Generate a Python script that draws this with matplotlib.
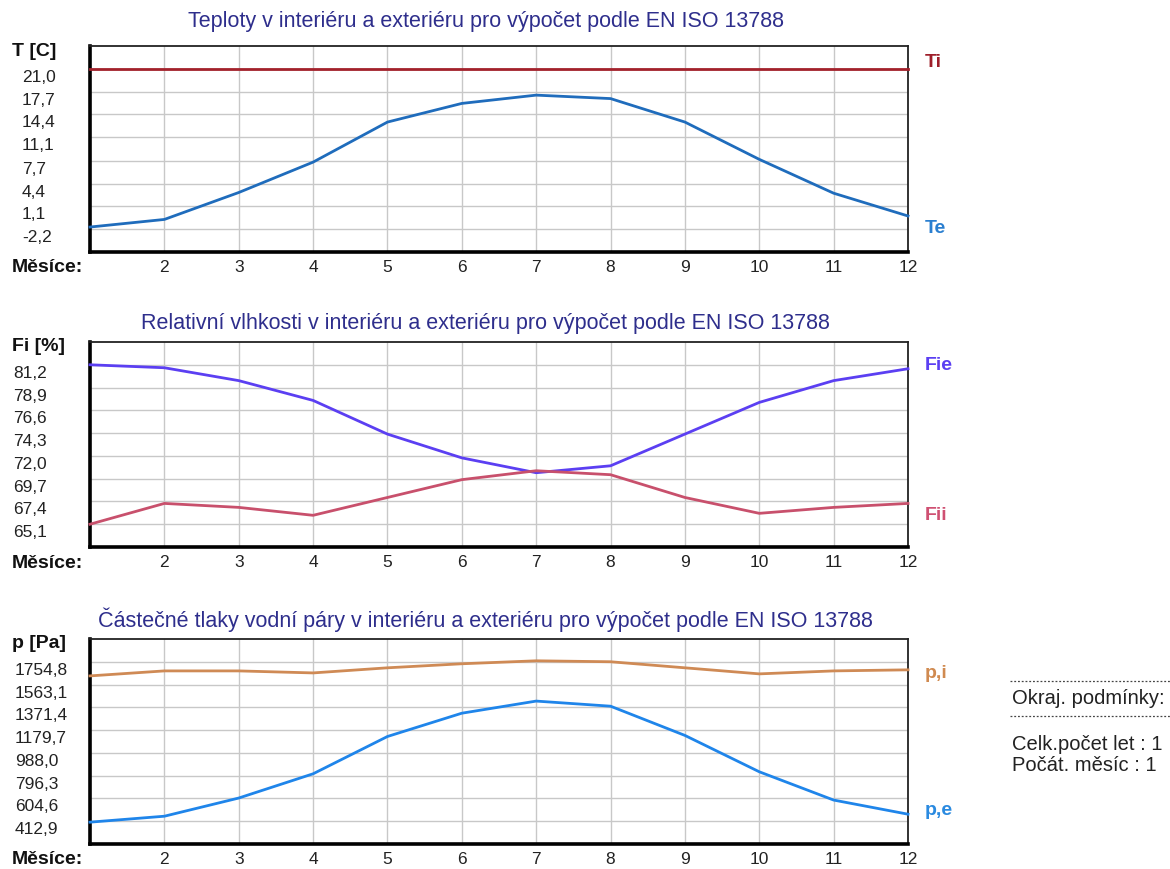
import numpy as np
import matplotlib.pyplot as plt
from matplotlib.lines import Line2D

plt.rcParams["font.family"] = ["Liberation Sans", "DejaVu Sans"]

W, H = 1170, 870

# -------- DATA
mesice = list(range(1, 13))
mesic_popisky = [""] + [str(m) for m in range(2, 13)]

# teploty [C]
ti = [21.0] * 12
te = [-1.9, -0.8, 3.1, 7.5, 13.3, 16.0, 17.2, 16.7, 13.3, 7.9, 3.0, -0.3]

# relativni vlhkosti [%]
fie = [81.2, 80.9, 79.6, 77.6, 74.2, 71.8, 70.3, 71.0, 74.2, 77.4, 79.6, 80.8]
fii = [65.1, 67.2, 66.8, 66.0, 67.8, 69.6, 70.5, 70.1, 67.8, 66.2, 66.8, 67.2]

# castecne tlaky vodni pary [Pa]
p_i = [1636, 1678, 1678, 1661, 1704, 1738, 1763, 1755, 1704, 1653, 1678, 1687]
p_e = [405, 455, 608, 812, 1126, 1322, 1424, 1381, 1135, 829, 591, 472]

t_ticks = [-2.2, 1.1, 4.4, 7.7, 11.1, 14.4, 17.7, 21.0]
fi_ticks = [65.1, 67.4, 69.7, 72.0, 74.3, 76.6, 78.9, 81.2]
p_ticks = [412.9, 604.6, 796.3, 988.0, 1179.7, 1371.4, 1563.1, 1754.8]

# -------- LAYOUT (pixels)
panels = [
    dict(title="Teploty v interiéru a exteriéru pro výpočet podle EN ISO 13788",
         unit="T [C]", ticks=t_ticks, top=47, bottom=253, lab_x=22, title_pad=14.5,
         series=[("Ti", ti, "#a3212b", "#9e1f2a", -7),
                 ("Te", te, "#1f6cbc", "#2a7fd0", 12)]),
    dict(title="Relativní vlhkosti v interiéru a exteriéru pro výpočet podle EN ISO 13788",
         unit="Fi [%]", ticks=fi_ticks, top=343, bottom=548, lab_x=13, title_pad=10,
         series=[("Fie", fie, "#5b3ff2", "#5b3ff2", -4),
                 ("Fii", fii, "#c8506c", "#cf5072", 11)]),
    dict(title="Částečné tlaky vodní páry v interiéru a exteriéru pro výpočet podle EN ISO 13788",
         unit="p [Pa]", ticks=p_ticks, top=640, bottom=845, lab_x=15, title_pad=9.5,
         series=[("p,i", p_i, "#cf8a55", "#d08a50", 3),
                 ("p,e", p_e, "#1f85ea", "#2a8ae0", -5)]),
]

left_px, right_px = 90, 908
title_color = "#2e2e8c"
grid_color = "#c8c8c8"
px2pt = 0.72

fig = plt.figure(figsize=(W / 100, H / 100), dpi=100)

for p in panels:
    ax = fig.add_axes([left_px / W, 1 - p["bottom"] / H,
                       (right_px - left_px) / W, (p["bottom"] - p["top"]) / H])
    ticks = p["ticks"]
    step = (ticks[-1] - ticks[0]) / (len(ticks) - 1)
    ax.set_ylim(ticks[0] - step, ticks[-1] + step)
    ax.set_xlim(1, 12)

    for name, vals, col, lab_col, dy in p["series"]:
        ax.plot(mesice, vals, color=col, lw=2.0, zorder=3, clip_on=False)
        ax.annotate(name, xy=(mesice[-1], vals[-1]),
                    xytext=(17 * px2pt, -dy * px2pt), textcoords="offset points",
                    ha="left", va="center", fontsize=14, fontweight="bold",
                    color=lab_col, annotation_clip=False)

    ax.set_yticks(ticks)
    ax.set_yticklabels([f"{v:.1f}".replace(".", ",") for v in ticks])
    ax.set_xticks(mesice)
    ax.set_xticklabels(mesic_popisky)
    ax.tick_params(axis="y", length=0, pad=(left_px - p["lab_x"]) * px2pt,
                   labelsize=12.5, labelcolor="#222222")
    ax.tick_params(axis="x", length=0, pad=5, labelsize=12.5, labelcolor="#222222")
    for lbl in ax.get_yticklabels():
        lbl.set_ha("left")
        lbl.set_va("top")

    ax.grid(True, color=grid_color, lw=1.0, zorder=0)
    for s in ["left", "bottom"]:
        ax.spines[s].set_linewidth(2.6)
        ax.spines[s].set_color("black")
    for s in ["top", "right"]:
        ax.spines[s].set_linewidth(1.3)
        ax.spines[s].set_color("#222222")

    ax.set_title(p["title"], x=0.484, pad=p["title_pad"], fontsize=15.5,
                 color=title_color)

    fig.text(12 / W, 1 - (p["top"] + 4) / H, p["unit"], fontsize=14,
             fontweight="bold", va="center", ha="left", color="#111111")
    fig.text(12 / W, 1 - (p["bottom"] + 15) / H, "Měsíce:", fontsize=14,
             fontweight="bold", va="center", ha="left", color="#111111")

# -------- Okrajove podminky (vpravo dole)
for y in [682, 717]:
    fig.add_artist(Line2D([1010 / W, 1.0], [1 - y / H, 1 - y / H], lw=0.9,
                          color="#444444", linestyle=(0, (1.5, 1.5))))
fig.text(1012 / W, 1 - 699 / H, "Okraj. podmínky:", fontsize=14.5, va="center",
         color="#222222")
fig.text(1012 / W, 1 - 745 / H, "Celk.počet let : 1", fontsize=14.5, va="center",
         color="#222222")
fig.text(1012 / W, 1 - 766 / H, "Počát. měsíc : 1", fontsize=14.5, va="center",
         color="#222222")

fig.savefig("out.png", dpi=100, facecolor="white")
